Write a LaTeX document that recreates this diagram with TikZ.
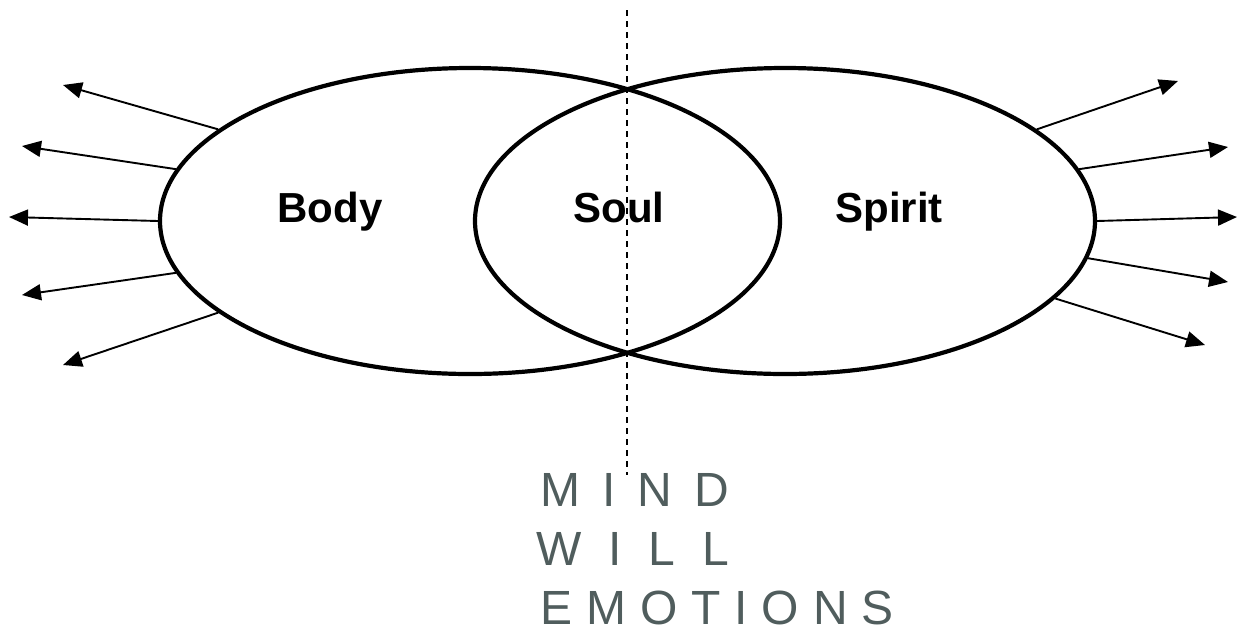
\documentclass[tikz,border=0pt]{standalone}
\usepackage{fontspec}
\setmainfont{Liberation Sans}
\newfontfamily\handfont{Liberation Sans}
\usetikzlibrary{arrows.meta,shapes.geometric}
\definecolor{soulInk}{HTML}{505D5D}

\begin{document}
\begin{tikzpicture}[x=1pt,y=-1pt,
    part/.style={ellipse,draw=black,line width=4.2pt,
                 minimum width=620pt,minimum height=306pt,inner sep=0pt},
    partlabel/.style={anchor=base,font=\fontsize{42}{48}\selectfont\bfseries},
    ray/.style={line width=1.9pt,-{Triangle[length=19pt,width=16pt]}},
    scrawl/.style={anchor=base west,inner sep=0pt,text=soulInk,
                   font=\handfont\fontsize{48}{54}\selectfont}]

  \useasboundingbox (0,0) rectangle (1237,633);

  \node[part] (body)   at (470,221) {};
  \node[part] (spirit) at (785,221) {};

  \node[partlabel] (lbody)   at (330,222) {Body};
  \node[partlabel] (lsoul)   at (619,222) {Soul};
  \node[partlabel] (lspirit) at (889,222) {Spirit};

  % divider through the soul
  \coordinate (dtop) at (627,10);
  \coordinate (dbot) at (627,475);
  \draw[line width=2pt,dash pattern=on 6pt off 5pt] (dtop) -- (dbot);

  % rays out of the body
  \coordinate (bl1) at (63,85);
  \coordinate (bl2) at (22,146);
  \coordinate (bl3) at (9,217);
  \coordinate (bl4) at (22,295);
  \coordinate (bl5) at (63,365);
  \draw[ray] (body.160) -- (bl1);
  \draw[ray] (body.170) -- (bl2);
  \draw[ray] (body.180) -- (bl3);
  \draw[ray] (body.190) -- (bl4);
  \draw[ray] (body.200) -- (bl5);

  % rays out of the spirit
  \coordinate (sr1) at (1178,81);
  \coordinate (sr2) at (1228,147);
  \coordinate (sr3) at (1237,217);
  \coordinate (sr4) at (1228,282);
  \coordinate (sr5) at (1205,345);
  \draw[ray] (spirit.20)  -- (sr1);
  \draw[ray] (spirit.10)  -- (sr2);
  \draw[ray] (spirit.0)   -- (sr3);
  \draw[ray] (spirit.353) -- (sr4);
  \draw[ray] (spirit.344) -- (sr5);

  \node[scrawl] (mind)     at (540,506) {\addfontfeature{LetterSpace=46}MIND};
  \node[scrawl] (will)     at (536,565) {\addfontfeature{LetterSpace=56}WILL};
  \node[scrawl] (emotions) at (540,624) {\addfontfeature{LetterSpace=29}EMOTIONS};
\end{tikzpicture}
\end{document}
